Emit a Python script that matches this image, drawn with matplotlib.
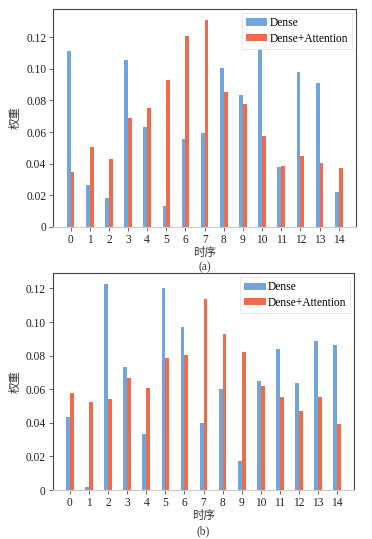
import numpy as np
import matplotlib
matplotlib.use('Agg')
import matplotlib.pyplot as plt
from matplotlib.ticker import FuncFormatter

# fonts: Times-like numbers, CJK fallback for the axis labels
plt.rcParams['font.family'] = ['Liberation Serif', 'Noto Sans CJK SC']
plt.rcParams['font.size'] = 8.3

# data
steps = list(range(15))
dense_a = [0.1115, 0.0265, 0.0182, 0.1056, 0.0629, 0.0131, 0.0557, 0.0595,
           0.1007, 0.0838, 0.1124, 0.0377, 0.0980, 0.0910, 0.0220]
attn_a = [0.0347, 0.0504, 0.0430, 0.0688, 0.0751, 0.0927, 0.1210, 0.1310,
          0.0851, 0.0779, 0.0576, 0.0385, 0.0449, 0.0406, 0.0372]
dense_b = [0.0437, 0.0016, 0.1226, 0.0734, 0.0335, 0.1202, 0.0968, 0.0397,
           0.0603, 0.0173, 0.0649, 0.0839, 0.0639, 0.0887, 0.0863]
attn_b = [0.0575, 0.0522, 0.0540, 0.0665, 0.0605, 0.0784, 0.0802, 0.1137,
          0.0929, 0.0821, 0.0619, 0.0556, 0.0472, 0.0554, 0.0395]
yticks = [0, 0.02, 0.04, 0.06, 0.08, 0.10, 0.12]
legend_labels = ['Dense', 'Dense+Attention']
panel_tags = ['(a)', '(b)']

blue = '#6fa6dd'
red = '#f06a4c'

fig = plt.figure(figsize=(3.72, 5.39), dpi=100)
ax1 = fig.add_axes([0.1433, 0.5794, 0.8137, 0.4039])
ax2 = fig.add_axes([0.1417, 0.0909, 0.8110, 0.4020])


def draw(ax, dense, attn, ytop, tag):
    x = np.array(steps)
    w = 0.2
    ax.bar(x - w / 2, dense, width=w, color=blue, label=legend_labels[0])
    ax.bar(x + w / 2, attn, width=w, color=red, label=legend_labels[1])
    ax.set_xlim(-0.9, 14.9)
    ax.set_ylim(0, ytop)
    ax.set_xticks(x)
    ax.set_yticks(yticks)
    ax.yaxis.set_major_formatter(FuncFormatter(lambda v, p: '0' if v == 0 else '%.2f' % v))
    ax.tick_params(axis='both', direction='out', length=3, width=0.6,
                   color='#555555', labelsize=8.3, pad=2, labelcolor='#222222')
    for s in ['left', 'top', 'right']:
        ax.spines[s].set_color('#444444')
        ax.spines[s].set_linewidth(0.8)
    ax.spines['bottom'].set_color('#cccccc')
    ax.spines['bottom'].set_linewidth(0.8)
    ax.set_ylabel('权重', fontsize=8.3, color='#333333', labelpad=3)
    ax.set_xlabel('时序\n' + tag, fontsize=8.3, color='#333333', labelpad=1,
                  linespacing=1.3)
    leg = ax.legend(loc='upper right', fontsize=8.3, frameon=True, fancybox=False,
                    handlelength=1.85, handleheight=0.6, borderpad=0.35,
                    labelspacing=0.3, handletextpad=0.2, borderaxespad=0.35)
    leg.get_frame().set_edgecolor('#dddddd')
    leg.get_frame().set_linewidth(0.6)


draw(ax1, dense_a, attn_a, 0.138, panel_tags[0])
draw(ax2, dense_b, attn_b, 0.129, panel_tags[1])

plt.savefig('out.png', dpi=100)
plt.close()
